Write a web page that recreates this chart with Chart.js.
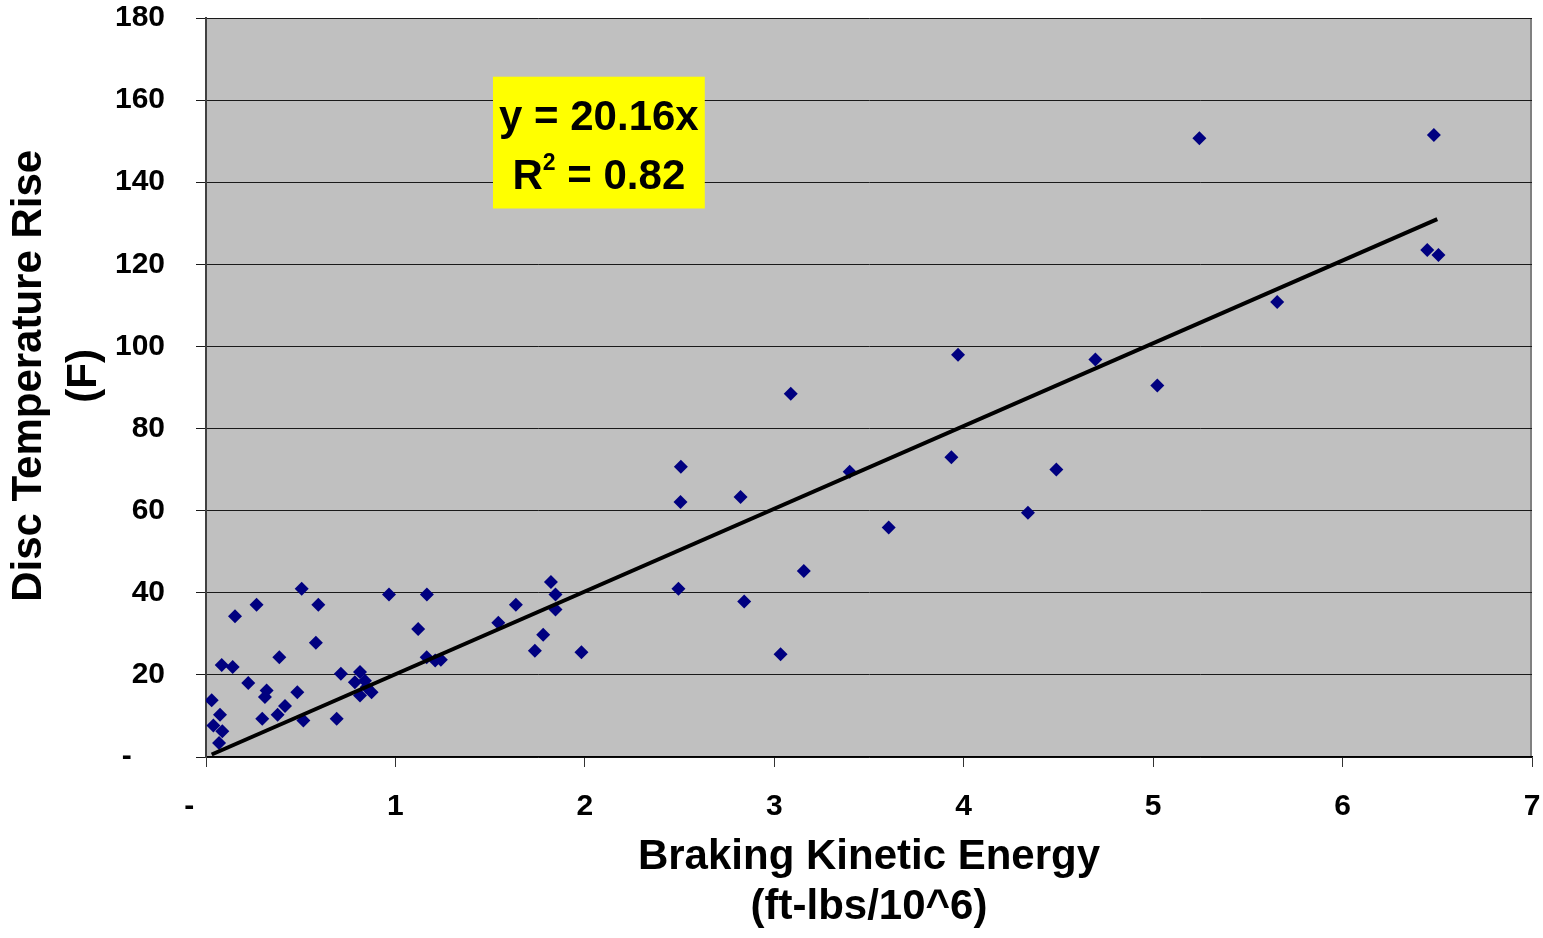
<!DOCTYPE html>
<html>
<head>
<meta charset="utf-8">
<script src="https://cdn.jsdelivr.net/npm/chart.js@4.4.0/dist/chart.umd.min.js"></script>
<style>
  html, body { margin: 0; padding: 0; background: #ffffff; }
  #contenedor { width: 1543px; height: 938px; position: relative; }
</style>
</head>
<body>
<div id="contenedor"><canvas id="graficaFrenos"></canvas></div>
<script>
// energia de frenado (ft-lbs/10^6) y aumento de temperatura del disco (F)
const energiaX = [
  0.030, 0.039, 0.069, 0.074, 0.083, 0.086, 0.141, 0.153, 0.223, 0.267,
  0.297, 0.311, 0.320, 0.378, 0.387, 0.417, 0.482, 0.505, 0.514, 0.580,
  0.593, 0.690, 0.712, 0.786, 0.813, 0.813, 0.839, 0.848, 0.874, 0.966,
  1.120, 1.165, 1.166, 1.210, 1.240, 1.543, 1.636, 1.736, 1.780, 1.821,
  1.845, 1.845, 1.982, 2.494, 2.505, 2.507, 2.822, 2.841, 3.033, 3.087,
  3.156, 3.398, 3.604, 3.935, 3.970, 4.339, 4.489, 4.695, 5.022, 5.244,
  5.655, 6.447, 6.482, 6.506
];
const temperaturaY = [
  13.8, 7.7, 3.4, 10.3, 22.4, 6.3, 21.9, 34.3, 18.0, 37.1,
  9.3, 14.6, 16.2, 10.3, 24.3, 12.4, 15.8, 41.0, 8.9, 27.8,
  37.1, 9.3, 20.3, 18.2, 20.7, 15.0, 18.6, 17.0, 15.8, 39.6,
  31.2, 24.3, 39.6, 23.5, 23.7, 32.7, 37.1, 25.9, 29.8, 42.6,
  39.6, 35.9, 25.5, 41.0, 62.1, 70.7, 63.3, 37.9, 25.0, 88.5,
  45.3, 69.5, 55.9, 73.0, 98.0, 59.5, 70.0, 96.8, 90.5, 150.7,
  110.8, 123.5, 151.5, 122.3
];

// linea de tendencia (y = 20.16x), extremos
const tendenciaX = [0.03, 6.5];
const tendenciaY = [0.6, 131.0];

const xTickLabels = ["-", "1", "2", "3", "4", "5", "6", "7"];
const yTickLabels = ["-", "20", "40", "60", "80", "100", "120", "140", "160", "180"];

const ecuacionTexto = "y = 20.16x";
const r2Texto = " = 0.82";

const fuente = "'Liberation Sans', Arial, sans-serif";

const puntos = energiaX.map((x, i) => ({ x: x, y: temperaturaY[i] }));
const tendencia = tendenciaX.map((x, i) => ({ x: x, y: tendenciaY[i] }));

// fondo gris del area del grafico
const fondoArea = {
  id: "fondoArea",
  beforeDraw(chart) {
    const { ctx, chartArea: a } = chart;
    ctx.save();
    ctx.fillStyle = "#c0c0c0";
    ctx.fillRect(a.left, a.top, a.right - a.left, a.bottom - a.top);
    ctx.strokeStyle = "#808080";
    ctx.lineWidth = 2;
    ctx.beginPath();
    ctx.moveTo(a.right - 1, a.top);
    ctx.lineTo(a.right - 1, a.bottom);
    ctx.stroke();
    ctx.restore();
  }
};

// caja amarilla con la ecuacion
const cajaEcuacion = {
  id: "cajaEcuacion",
  afterDatasetsDraw(chart) {
    const { ctx, scales } = chart;
    const izq = scales.x.getPixelForValue(1.515);
    const der = scales.x.getPixelForValue(2.633);
    const arriba = scales.y.getPixelForValue(165.7);
    const abajo = scales.y.getPixelForValue(133.6);
    const cx = (izq + der) / 2;

    ctx.save();
    ctx.fillStyle = "#ffff00";
    ctx.fillRect(izq, arriba, der - izq, abajo - arriba);

    ctx.fillStyle = "#000000";
    ctx.textBaseline = "alphabetic";
    ctx.font = "bold 42px " + fuente;
    ctx.textAlign = "center";
    ctx.fillText(ecuacionTexto, cx, arriba + 53);

    // R^2 con superindice
    ctx.textAlign = "left";
    const wR = ctx.measureText("R").width;
    const wResto = ctx.measureText(r2Texto).width;
    ctx.font = "bold 23px " + fuente;
    const w2 = ctx.measureText("2").width;
    const x0 = cx - (wR + w2 + wResto) / 2;
    const base = arriba + 112;
    ctx.font = "bold 42px " + fuente;
    ctx.fillText("R", x0, base);
    ctx.font = "bold 23px " + fuente;
    ctx.fillText("2", x0 + wR, base - 19);
    ctx.font = "bold 42px " + fuente;
    ctx.fillText(r2Texto, x0 + wR + w2, base);
    ctx.restore();
  }
};

new Chart(document.getElementById("graficaFrenos"), {
  type: "scatter",
  data: {
    datasets: [
      {
        type: "line",
        label: "Tendencia",
        data: tendencia,
        borderColor: "#000000",
        borderWidth: 4,
        pointRadius: 0,
        fill: false,
      },
      {
        label: "Datos",
        data: puntos,
        pointStyle: "rectRot",
        pointRadius: 7,
        backgroundColor: "#000080",
        borderColor: "#000080",
        borderWidth: 0,
      },
    ],
  },
  options: {
    responsive: true,
    maintainAspectRatio: false,
    animation: false,
    layout: {
      padding: { top: 18, right: 11, left: 0, bottom: 0 },
    },
    plugins: {
      legend: { display: false },
      tooltip: { enabled: false },
    },
    scales: {
      x: {
        type: "linear",
        min: 0,
        max: 7,
        afterFit(scale) {
          scale.height = 181;
          scale.paddingLeft = 0;
          scale.paddingRight = 0;
        },
        ticks: {
          stepSize: 1,
          padding: 22,
          color: "#000000",
          font: { family: fuente, size: 30, weight: "bold" },
          callback: (valor, i) => (xTickLabels[i] === "-" ? "-    " : xTickLabels[i]),
        },
        grid: {
          drawOnChartArea: false,
          drawTicks: true,
          tickLength: 10,
          color: "#333333",
        },
        border: { color: "#000000", width: 1.5 },
        title: {
          display: true,
          text: ["Braking Kinetic Energy", "(ft-lbs/10^6)"],
          color: "#000000",
          font: { family: fuente, size: 42, weight: "bold", lineHeight: 1.2 },
          padding: { top: 0, bottom: 5 },
        },
      },
      y: {
        min: 0,
        max: 180,
        afterFit(scale) {
          scale.width = 206;
          scale.paddingTop = 0;
          scale.paddingBottom = 0;
        },
        ticks: {
          stepSize: 20,
          padding: 31,
          color: "#000000",
          font: { family: fuente, size: 30, weight: "bold" },
          callback: (valor, i) => (yTickLabels[i] === "-" ? "-    " : yTickLabels[i]),
        },
        grid: {
          color: "#1a1a1a",
          lineWidth: 1,
          drawTicks: true,
          tickLength: 10,
        },
        border: { color: "#404040", width: 2 },
        title: {
          display: true,
          // espacios iniciales: el titulo en el original esta algo mas arriba
          text: ["  Disc Temperature Rise", "  (F)"],
          color: "#000000",
          font: { family: fuente, size: 42, weight: "bold", lineHeight: 1.33 },
          padding: { top: 1, bottom: 0 },
        },
      },
    },
  },
  plugins: [fondoArea, cajaEcuacion],
});
</script>
</body>
</html>
